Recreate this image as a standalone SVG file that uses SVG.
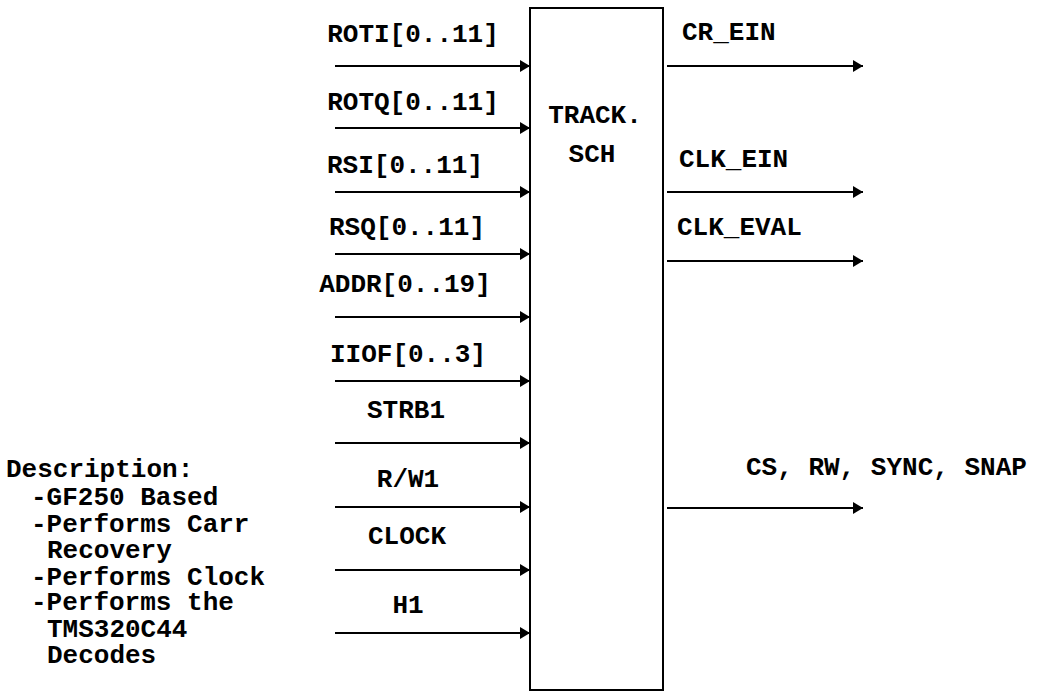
<svg xmlns="http://www.w3.org/2000/svg" width="1037" height="698" viewBox="0 0 1037 698">
<style>
text{font-family:"Liberation Mono","Courier New",monospace;font-weight:bold;font-size:26px;fill:#000}
.c{text-anchor:middle}
.w{stroke:#000;stroke-width:2;fill:none}
</style>
<defs>
<marker id="ah" markerUnits="userSpaceOnUse" markerWidth="10" markerHeight="12" refX="10" refY="6" orient="auto">
<path d="M0,0 L10,6 L0,12 Z" fill="#000"/>
</marker>
</defs>
<rect width="1037" height="698" fill="#fff"/>
<g id="track">
<rect x="530" y="8" width="133" height="682" fill="#fff" stroke="#000" stroke-width="2"/>
<text class="c" x="595" y="123">TRACK.</text>
<text class="c" x="592" y="162">SCH</text>
</g>
<g id="connectors">
<line class="w" x1="335" y1="66" x2="530" y2="66" marker-end="url(#ah)"/>
<line class="w" x1="335" y1="128" x2="530" y2="128" marker-end="url(#ah)"/>
<line class="w" x1="335" y1="192" x2="530" y2="192" marker-end="url(#ah)"/>
<line class="w" x1="335" y1="254" x2="530" y2="254" marker-end="url(#ah)"/>
<line class="w" x1="335" y1="317" x2="530" y2="317" marker-end="url(#ah)"/>
<line class="w" x1="335" y1="381" x2="530" y2="381" marker-end="url(#ah)"/>
<line class="w" x1="335" y1="443" x2="530" y2="443" marker-end="url(#ah)"/>
<line class="w" x1="335" y1="507" x2="530" y2="507" marker-end="url(#ah)"/>
<line class="w" x1="335" y1="570" x2="530" y2="570" marker-end="url(#ah)"/>
<line class="w" x1="335" y1="633" x2="530" y2="633" marker-end="url(#ah)"/>
<line class="w" x1="667" y1="66" x2="863" y2="66" marker-end="url(#ah)"/>
<line class="w" x1="667" y1="192" x2="863" y2="192" marker-end="url(#ah)"/>
<line class="w" x1="667" y1="261" x2="863" y2="261" marker-end="url(#ah)"/>
<line class="w" x1="667" y1="508" x2="863" y2="508" marker-end="url(#ah)"/>
</g>
<g id="labels">
<text class="c" x="413" y="42">ROTI[0..11]</text>
<text class="c" x="413" y="110">ROTQ[0..11]</text>
<text class="c" x="405" y="173">RSI[0..11]</text>
<text class="c" x="407" y="235">RSQ[0..11]</text>
<text class="c" x="405" y="292">ADDR[0..19]</text>
<text class="c" x="408" y="362">IIOF[0..3]</text>
<text class="c" x="406" y="418">STRB1</text>
<text class="c" x="408" y="487">R/W1</text>
<text class="c" x="407" y="544">CLOCK</text>
<text class="c" x="408" y="613">H1</text>
<text x="682" y="40">CR_EIN</text>
<text x="679" y="167">CLK_EIN</text>
<text x="677" y="235">CLK_EVAL</text>
<text x="746" y="475">CS, RW, SYNC, SNAP</text>
</g>
<g id="description">
<text x="6" y="477">Description:</text>
<text x="31" y="505">-GF250 Based</text>
<text x="31" y="532">-Performs Carr</text>
<text x="47" y="558">Recovery</text>
<text x="31" y="585">-Performs Clock</text>
<text x="31" y="610">-Performs the</text>
<text x="47" y="637">TMS320C44</text>
<text x="47" y="663">Decodes</text>
</g>
</svg>
